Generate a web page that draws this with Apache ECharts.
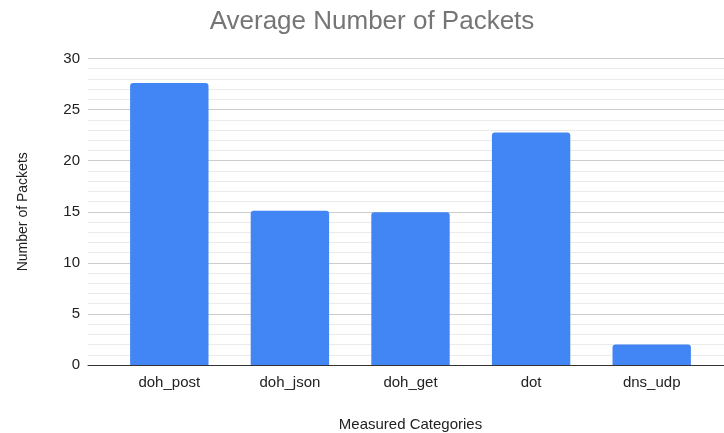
<!DOCTYPE html>
<html>
<head>
<meta charset="utf-8">
<script src="https://cdn.jsdelivr.net/npm/echarts@6/dist/echarts.min.js"></script>
<style>
html,body{margin:0;padding:0;background:#fff;}
#chart{width:724px;height:433px;}
</style>
</head>
<body>
<div id="chart"></div>
<script>
var categories = ['doh_post', 'doh_json', 'doh_get', 'dot', 'dns_udp'];
var packets = [27.6, 15.1, 14.95, 22.75, 2.0];
var yTicks = [0, 5, 10, 15, 20, 25, 30];

var chart = echarts.init(document.getElementById('chart'));
var textFont = 'Liberation Sans, Arial, sans-serif';

var option = {
    backgroundColor: '#fff',
    title: {
        text: 'Average Number of Packets',
        left: 367,
        top: 4,
        textAlign: 'center',
        textStyle: {color: '#757575', fontSize: 26, fontWeight: 'normal', fontFamily: textFont}
    },
    // grid 0 draws the gridlines full width, grid 1 holds the bars
    grid: [
        {left: 88, right: 0, top: 58.5, bottom: 68, outerBoundsMode: 'none', containLabel: false},
        {left: 109, right: 12, top: 58.5, bottom: 68, outerBoundsMode: 'none', containLabel: false}
    ],
    xAxis: [
        {
            gridIndex: 0, type: 'category', data: [''],
            axisLine: {show: true, lineStyle: {color: '#333', width: 1}},
            axisTick: {show: false}, axisLabel: {show: false}
        },
        {
            gridIndex: 1, type: 'category', data: categories,
            axisLine: {show: false}, axisTick: {show: false},
            axisLabel: {color: '#222', fontSize: 15, margin: 10, fontFamily: textFont},
            name: 'Measured Categories', nameLocation: 'middle', nameGap: 52,
            nameTextStyle: {color: '#222', fontSize: 15, fontFamily: textFont}
        }
    ],
    yAxis: [
        {
            gridIndex: 0, type: 'value', min: yTicks[0], max: yTicks[yTicks.length - 1], interval: 5,
            axisLine: {show: false}, axisTick: {show: false},
            axisLabel: {color: '#222', fontSize: 15, margin: 8, fontFamily: textFont},
            splitLine: {lineStyle: {color: '#cccccc', width: 1}},
            minorTick: {show: false, splitNumber: 5},
            minorSplitLine: {show: true, lineStyle: {color: '#ebebeb', width: 1}},
            name: 'Number of Packets', nameLocation: 'middle', nameGap: 58,
            nameTextStyle: {color: '#222', fontSize: 14, fontFamily: textFont}
        },
        {
            gridIndex: 1, type: 'value', min: yTicks[0], max: yTicks[yTicks.length - 1], interval: 5,
            show: false, splitLine: {show: false}
        }
    ],
    series: [
        {
            type: 'bar',
            xAxisIndex: 1, yAxisIndex: 1,
            data: packets,
            barWidth: '65%',
            itemStyle: {color: '#4285f4', borderRadius: [3, 3, 0, 0]}
        }
    ]
};
chart.setOption(option);
</script>
</body>
</html>
